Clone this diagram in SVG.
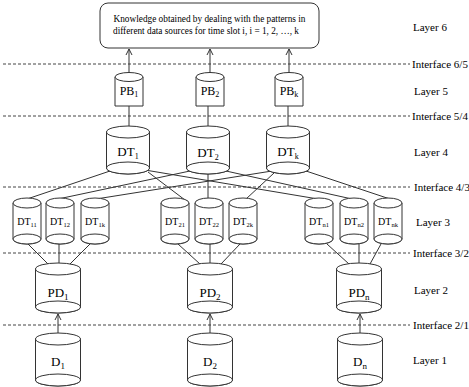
<svg xmlns="http://www.w3.org/2000/svg" xmlns:xlink="http://www.w3.org/1999/xlink" width="469" height="387" viewBox="0 0 469 387">
<style>
.cyl path,.cyl ellipse{fill:#fff;stroke:#333;stroke-width:1}
.lbl{font-family:"Liberation Serif","Times New Roman",serif;fill:#000;text-anchor:middle}
.side{font-family:"Liberation Serif","Times New Roman",serif;font-size:11px;fill:#000}
.dash{stroke:#444;stroke-width:1;stroke-dasharray:3,2;fill:none}
.conn line{stroke:#333;stroke-width:1;fill:none}
.arr{marker-end:url(#ah)}
.box{fill:#fff;stroke:#333;stroke-width:1}
</style>
<defs>
<marker id="ah" markerWidth="8" markerHeight="8" refX="6" refY="4" orient="auto" markerUnits="userSpaceOnUse">
<path d="M0,1 L6,4 L0,7" fill="none" stroke="#333" stroke-width="1"/>
</marker>
<g id="cPB" class="cyl"><path d="M-14,0 V29 H14 V0 Z"/><ellipse cx="0" cy="0" rx="14" ry="4.5"/></g>
<g id="cDT" class="cyl"><path d="M-21.5,0 V36 A21.5,6 0 0 0 21.5,36 V0 Z"/><ellipse cx="0" cy="0" rx="21.5" ry="6"/><ellipse cx="0" cy="36" rx="21.5" ry="6"/></g>
<g id="cS" class="cyl"><path d="M-14,0 V36 A14,5 0 0 0 14,36 V0 Z"/><ellipse cx="0" cy="0" rx="14" ry="5"/><ellipse cx="0" cy="36" rx="14" ry="5"/></g>
<g id="cPD" class="cyl"><path d="M-22.5,0 V38 A22.5,6 0 0 0 22.5,38 V0 Z"/><ellipse cx="0" cy="0" rx="22.5" ry="6"/><ellipse cx="0" cy="38" rx="22.5" ry="6"/></g>
<g id="cD" class="cyl"><path d="M-22.5,0 V41 A22.5,6 0 0 0 22.5,41 V0 Z"/><ellipse cx="0" cy="0" rx="22.5" ry="6"/><ellipse cx="0" cy="41" rx="22.5" ry="6"/></g>
</defs>

<g id="interfaces">
<line class="dash" x1="3" y1="64" x2="410" y2="64"/>
<line class="dash" x1="3" y1="116" x2="410" y2="116"/>
<line class="dash" x1="3" y1="187" x2="410" y2="187"/>
<line class="dash" x1="3" y1="253" x2="410" y2="253"/>
<line class="dash" x1="3" y1="325" x2="410" y2="325"/>
</g>
<g id="side-labels">
<text class="side" x="413" y="31">Layer 6</text>
<text class="side" x="412" y="68">Interface 6/5</text>
<text class="side" x="414" y="95">Layer 5</text>
<text class="side" x="412" y="120">Interface 5/4</text>
<text class="side" x="414" y="156">Layer 4</text>
<text class="side" x="414" y="191">Interface 4/3</text>
<text class="side" x="416" y="226">Layer 3</text>
<text class="side" x="413" y="257">Interface 3/2</text>
<text class="side" x="414" y="294">Layer 2</text>
<text class="side" x="413" y="329">Interface 2/1</text>
<text class="side" x="413" y="364">Layer 1</text>
</g>

<g id="connectors" class="conn">
<line class="arr" x1="129" y1="73" x2="129" y2="49"/>
<line class="arr" x1="210" y1="73" x2="210" y2="49"/>
<line class="arr" x1="289" y1="73" x2="289" y2="49"/>
<line x1="129" y1="106" x2="129" y2="126"/>
<line x1="208" y1="106" x2="208" y2="126"/>
<line x1="288" y1="106" x2="288" y2="126"/>
<line x1="110" y1="171" x2="27" y2="199"/>
<line x1="148" y1="172" x2="185" y2="200"/>
<line x1="145" y1="170" x2="318" y2="199"/>
<line x1="190" y1="171" x2="58" y2="199"/>
<line x1="208" y1="174" x2="208" y2="198"/>
<line x1="226" y1="171" x2="352" y2="199"/>
<line x1="272" y1="171" x2="96" y2="199"/>
<line x1="274" y1="173" x2="246" y2="199"/>
<line x1="306" y1="171" x2="390" y2="199"/>
<line x1="28" y1="244" x2="48" y2="264"/>
<line x1="59" y1="244" x2="59" y2="263"/>
<line x1="90" y1="244" x2="70" y2="264"/>
<line x1="178" y1="244" x2="200" y2="264"/>
<line x1="210" y1="244" x2="210" y2="263"/>
<line x1="240" y1="244" x2="221" y2="264"/>
<line x1="327" y1="244" x2="349" y2="264"/>
<line x1="359" y1="244" x2="359" y2="263"/>
<line x1="381" y1="244" x2="370" y2="264"/>
<line class="arr" x1="58" y1="333" x2="58" y2="314"/>
<line class="arr" x1="210" y1="333" x2="210" y2="314"/>
<line class="arr" x1="360" y1="333" x2="360" y2="314"/>
</g>

<g id="knowledge">
<rect class="box" x="100" y="3" width="219" height="45" rx="8"/>
<text class="lbl" x="209.5" y="22" font-size="10" textLength="192" lengthAdjust="spacingAndGlyphs">Knowledge obtained by dealing with the patterns in</text>
<text class="lbl" x="206" y="34" font-size="10" textLength="186" lengthAdjust="spacingAndGlyphs">different data sources for time slot i, i = 1, 2, …, k</text>
</g>

<g id="PB1"><use xlink:href="#cPB" x="129" y="77"/><text class="lbl" x="129" y="95" font-size="12">PB<tspan font-size="8" dy="2">1</tspan></text></g>
<g id="PB2"><use xlink:href="#cPB" x="210" y="77"/><text class="lbl" x="210" y="95" font-size="12">PB<tspan font-size="8" dy="2">2</tspan></text></g>
<g id="PBk"><use xlink:href="#cPB" x="289" y="77"/><text class="lbl" x="289" y="95" font-size="12">PB<tspan font-size="8" dy="2">k</tspan></text></g>

<g id="DT1"><use xlink:href="#cDT" x="128" y="132"/><text class="lbl" x="128" y="156" font-size="13">DT<tspan font-size="8" dy="3">1</tspan></text></g>
<g id="DT2"><use xlink:href="#cDT" x="208" y="132"/><text class="lbl" x="208" y="157" font-size="13">DT<tspan font-size="8" dy="3">2</tspan></text></g>
<g id="DTk"><use xlink:href="#cDT" x="288" y="132"/><text class="lbl" x="288" y="156" font-size="13">DT<tspan font-size="8" dy="3">k</tspan></text></g>

<g id="DT11"><use xlink:href="#cS" x="27" y="203"/><text class="lbl" x="27" y="225" font-size="10">DT<tspan font-size="6.5" dy="2">11</tspan></text></g>
<g id="DT12"><use xlink:href="#cS" x="60" y="203"/><text class="lbl" x="60" y="225" font-size="10">DT<tspan font-size="6.5" dy="2">12</tspan></text></g>
<g id="DT1k"><use xlink:href="#cS" x="95" y="203"/><text class="lbl" x="95" y="225" font-size="10">DT<tspan font-size="6.5" dy="2">1k</tspan></text></g>
<g id="DT21"><use xlink:href="#cS" x="175" y="203"/><text class="lbl" x="175" y="225" font-size="10">DT<tspan font-size="6.5" dy="2">21</tspan></text></g>
<g id="DT22"><use xlink:href="#cS" x="209" y="203"/><text class="lbl" x="209" y="225" font-size="10">DT<tspan font-size="6.5" dy="2">22</tspan></text></g>
<g id="DT2k"><use xlink:href="#cS" x="243" y="203"/><text class="lbl" x="243" y="225" font-size="10">DT<tspan font-size="6.5" dy="2">2k</tspan></text></g>
<g id="DTn1"><use xlink:href="#cS" x="319" y="203"/><text class="lbl" x="319" y="225" font-size="10">DT<tspan font-size="6.5" dy="2">n1</tspan></text></g>
<g id="DTn2"><use xlink:href="#cS" x="354" y="203"/><text class="lbl" x="354" y="225" font-size="10">DT<tspan font-size="6.5" dy="2">n2</tspan></text></g>
<g id="DTnk"><use xlink:href="#cS" x="388" y="203"/><text class="lbl" x="388" y="225" font-size="10">DT<tspan font-size="6.5" dy="2">nk</tspan></text></g>

<g id="PD1"><use xlink:href="#cPD" x="58" y="269"/><text class="lbl" x="58" y="297" font-size="13">PD<tspan font-size="9" dy="3">1</tspan></text></g>
<g id="PD2"><use xlink:href="#cPD" x="210" y="269"/><text class="lbl" x="210" y="297" font-size="13">PD<tspan font-size="9" dy="3">2</tspan></text></g>
<g id="PDn"><use xlink:href="#cPD" x="359" y="269"/><text class="lbl" x="359" y="297" font-size="13">PD<tspan font-size="9" dy="3">n</tspan></text></g>

<g id="D1"><use xlink:href="#cD" x="58" y="339"/><text class="lbl" x="58" y="366" font-size="13">D<tspan font-size="9" dy="3">1</tspan></text></g>
<g id="D2"><use xlink:href="#cD" x="210" y="339"/><text class="lbl" x="210" y="366" font-size="13">D<tspan font-size="9" dy="3">2</tspan></text></g>
<g id="Dn"><use xlink:href="#cD" x="360" y="339"/><text class="lbl" x="360" y="366" font-size="13">D<tspan font-size="9" dy="3">n</tspan></text></g>
</svg>
